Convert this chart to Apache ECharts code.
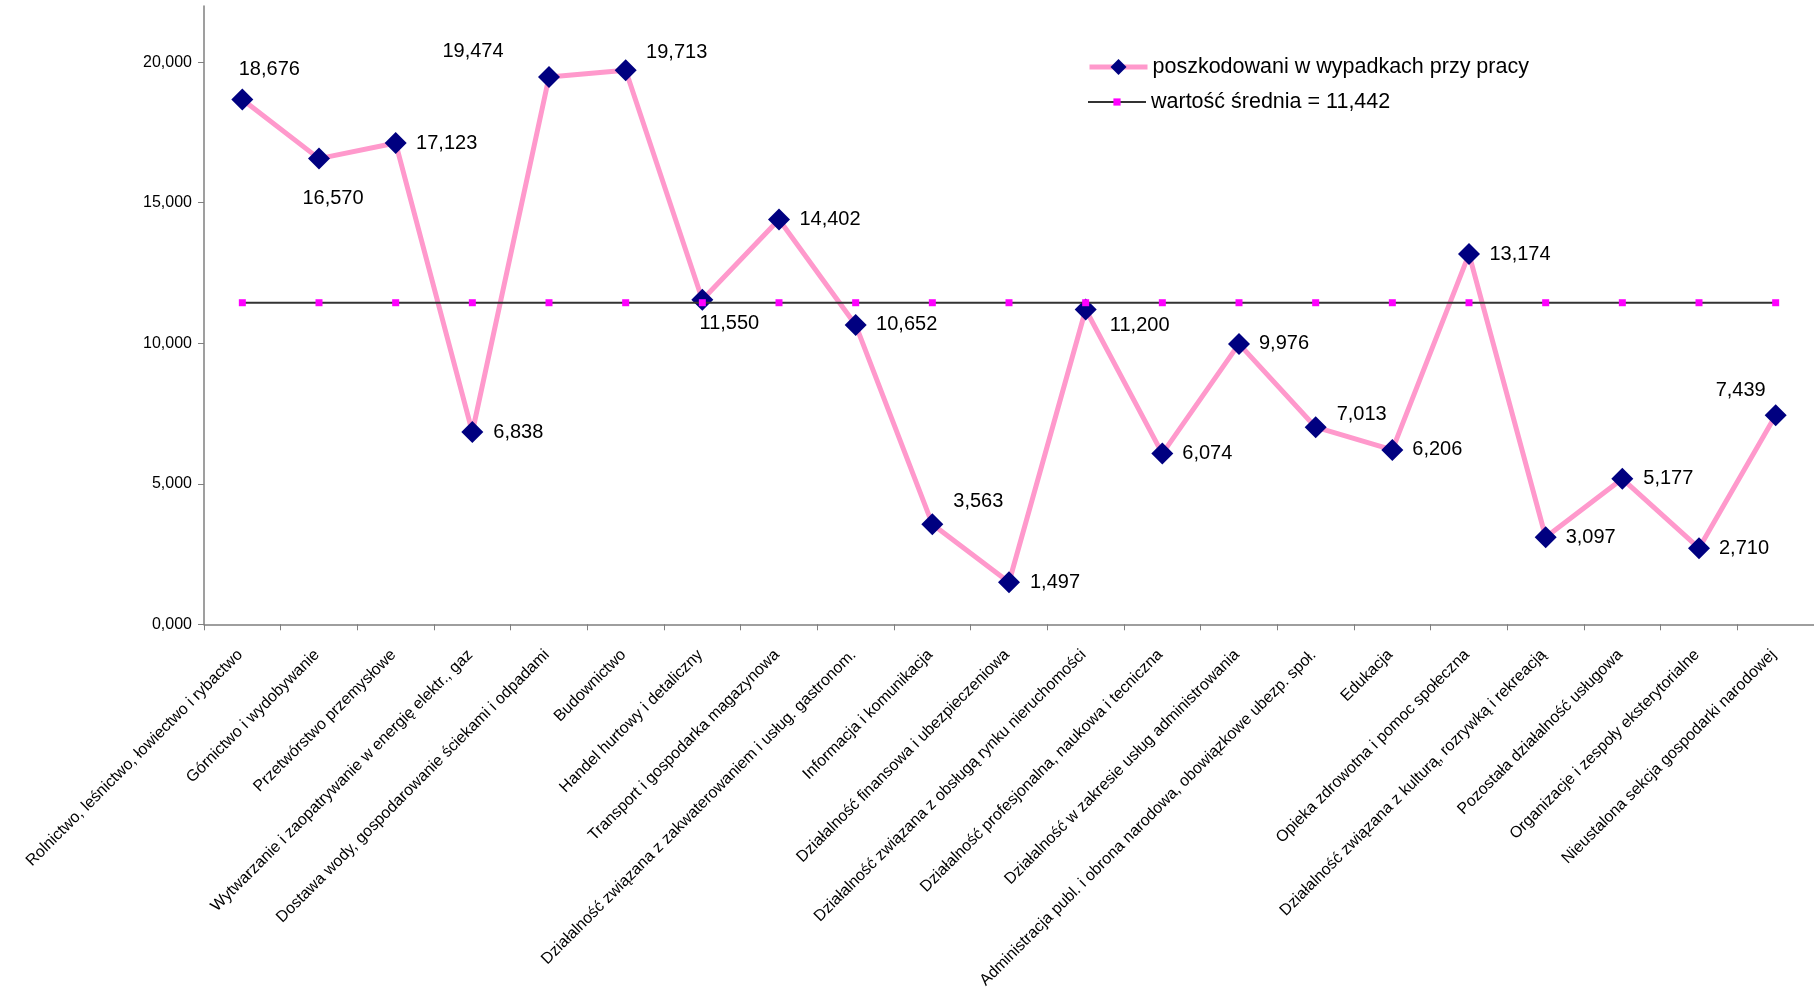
<!DOCTYPE html>
<html>
<head>
<meta charset="utf-8">
<script src="https://cdn.jsdelivr.net/npm/echarts@6/dist/echarts.min.js"></script>
<style>
html,body{margin:0;padding:0;background:#fff;}
#chart{width:1814px;height:991px;}
</style>
</head>
<body>
<div id="chart"></div>
<script>
const categories = [
  "Rolnictwo, leśnictwo, łowiectwo i rybactwo",
  "Górnictwo i wydobywanie",
  "Przetwórstwo przemysłowe",
  "Wytwarzanie i zaopatrywanie w energię elektr., gaz",
  "Dostawa wody, gospodarowanie ściekami i odpadami",
  "Budownictwo",
  "Handel hurtowy i detaliczny",
  "Transport i gospodarka magazynowa",
  "Działalność związana z zakwaterowaniem i usług. gastronom.",
  "Informacja i komunikacja",
  "Działalność finansowa i ubezpieczeniowa",
  "Działalność związana z obsługą rynku nieruchomości",
  "Działalność profesjonalna, naukowa i tecniczna",
  "Działalność w zakresie usług administrowania",
  "Administracja publ. i obrona narodowa, obowiązkowe ubezp. społ.",
  "Edukacja",
  "Opieka zdrowotna i pomoc społeczna",
  "Działalność związana z kulturą, rozrywką i rekreacją",
  "Pozostała działalność usługowa",
  "Organizacje i zespoły eksterytorialne",
  "Nieustalona sekcja gospodarki narodowej"
];
const injured = [18676, 16570, 17123, 6838, 19474, 19713, 11550, 14402, 10652, 3563, 1497, 11200, 6074, 9976, 7013, 6206, 13174, 3097, 5177, 2710, 7439];
const meanValues = [11442, 11442, 11442, 11442, 11442, 11442, 11442, 11442, 11442, 11442, 11442, 11442, 11442, 11442, 11442, 11442, 11442, 11442, 11442, 11442, 11442];
const yTicks = [0, 5000, 10000, 15000, 20000];
const seriesNames = ["poszkodowani w wypadkach przy pracy", "wartość średnia = 11,442"];

// label placement relative to each marker (styling, not data)
const labelOffsets = [
  [27,-30],[14,40],[51,0],[46,0],[-76,-26],[51,-18],[27,24],[51,0],[51,0],[46,-23],
  [46,0],[54,16],[45,0],[45,0],[46,-13],[45,0],[51,0],[45,0],[46,0],[45,0],[-35,-25]
];

const FONT = "'Liberation Sans', Arial, sans-serif";
const fmt = v => v.toLocaleString('en-US');

const chart = echarts.init(document.getElementById('chart'));
chart.setOption({
  backgroundColor: '#ffffff',
  animation: false,
  textStyle: { fontFamily: FONT, color: '#000' },
  grid: { left: 204, right: 0, top: 6, bottom: 366, containLabel: false },
  legend: [
    {
      data: [seriesNames[0]],
      left: 1087, top: 56, padding: 0,
      itemWidth: 58, itemHeight: 20, itemGap: 6,
      lineStyle: { width: 5 },
      textStyle: { fontFamily: FONT, fontSize: 21.5, color: '#000' }
    },
    {
      data: [seriesNames[1]],
      left: 1087, top: 91, padding: 0,
      itemWidth: 58, itemHeight: 9, itemGap: 6,
      lineStyle: { width: 2 },
      textStyle: { fontFamily: FONT, fontSize: 21.5, color: '#000' }
    }
  ],
  xAxis: {
    type: 'category',
    data: categories,
    boundaryGap: true,
    axisLine: { show: true, lineStyle: { color: '#7f7f7f', width: 1.5 } },
    axisTick: { show: true, alignWithLabel: false, length: 6, lineStyle: { color: '#7f7f7f', width: 1 } },
    axisLabel: {
      interval: 0, rotate: 45, margin: 26, padding: [0, 3, 0, 0],
      fontFamily: FONT, fontSize: 16, color: '#000'
    },
    splitLine: { show: false }
  },
  yAxis: {
    type: 'value',
    min: 0, max: 22000, interval: 5000,
    axisLine: { show: true, lineStyle: { color: '#7f7f7f', width: 1.5 } },
    axisTick: { show: true, length: 6, inside: false, customValues: yTicks, lineStyle: { color: '#7f7f7f', width: 1 } },
    axisLabel: {
      customValues: yTicks, margin: 12,
      fontFamily: FONT, fontSize: 16, color: '#000',
      formatter: v => (v / 1000).toFixed(3).replace('.', ',')
    },
    splitLine: { show: false }
  },
  series: [
    {
      name: seriesNames[0],
      type: 'line',
      data: injured.map((v, i) => ({
        value: v,
        label: { position: 'inside', offset: labelOffsets[i] }
      })),
      symbol: 'diamond',
      symbolSize: 22,
      showAllSymbol: true,
      itemStyle: { color: '#000080' },
      lineStyle: { color: '#ff99cc', width: 5 },
      label: {
        show: true,
        fontFamily: FONT, fontSize: 20, color: '#000',
        formatter: p => fmt(p.value)
      },
      emphasis: { disabled: true },
      z: 2
    },
    {
      name: seriesNames[1],
      type: 'line',
      data: meanValues,
      symbol: 'rect',
      symbolSize: 7,
      showAllSymbol: true,
      itemStyle: { color: '#ff00ff' },
      lineStyle: { color: '#333333', width: 2 },
      emphasis: { disabled: true },
      z: 3
    }
  ]
});
</script>
</body>
</html>
